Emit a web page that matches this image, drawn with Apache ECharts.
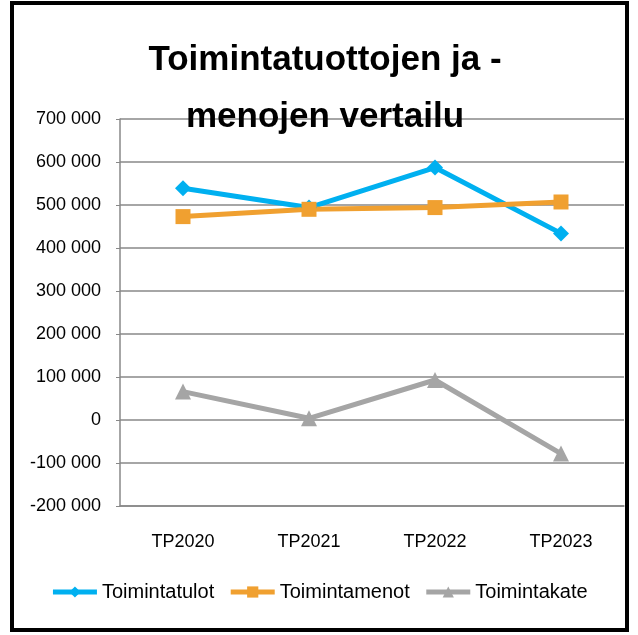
<!DOCTYPE html>
<html>
<head>
<meta charset="utf-8">
<script src="https://cdn.jsdelivr.net/npm/echarts@6/dist/echarts.min.js"></script>
<style>
    html, body { margin: 0; padding: 0; background: #fff; }
    #chart { width: 638px; height: 635px; }
</style>
</head>
<body>
<div id="chart"></div>
<script>
// chart data
const categories = ['TP2020', 'TP2021', 'TP2022', 'TP2023'];
const toimintatulot = [539000, 494000, 587000, 434000];
const toimintamenot = [473000, 490000, 494000, 507000];
const toimintakate = [66000, 4000, 93000, -78000];
const seriesNames = ['Toimintatulot', 'Toimintamenot', 'Toimintakate'];

const font = '"Liberation Sans Narrow", "Liberation Sans", sans-serif';

// 700000 -> "700 000"
function fmt(v) {
    return String(v).replace(/\B(?=(\d{3})+(?!\d))/g, ' ');
}

let myChart = echarts.init(document.getElementById('chart'));

function lineSeries(name, data, color, symbol) {
    return {
        name: name,
        type: 'line',
        data: data,
        symbol: symbol,
        symbolSize: symbol === 'rect' ? 15 : 16,
        lineStyle: { color: color, width: 5 },
        itemStyle: { color: color },
        emphasis: { disabled: true }
    };
}

myChart.setOption({
    animation: false,
    title: {
        text: 'Toimintatuottojen ja -\nmenojen vertailu',
        left: 320,
        top: 27,
        textAlign: 'center',
        textStyle: {
            fontFamily: font,
            fontWeight: 'bold',
            fontSize: 35,
            lineHeight: 57,
            color: '#000'
        },
        z: 10
    },
    grid: {
        left: 120,
        top: 119,
        right: 14,
        bottom: 129
    },
    legend: {
        data: seriesNames,
        bottom: 28,
        left: 'center',
        itemWidth: 44,
        itemHeight: 14,
        itemGap: 14,
        lineStyle: { width: 5 },
        textStyle: { fontFamily: font, fontSize: 20, color: '#000' }
    },
    xAxis: {
        type: 'category',
        data: categories,
        axisLine: { onZero: false, lineStyle: { color: '#888', width: 1.5 } },
        axisTick: { show: false },
        axisLabel: { margin: 27, fontFamily: font, fontSize: 18, color: '#000' }
    },
    yAxis: {
        type: 'value',
        min: -200000,
        max: 700000,
        interval: 100000,
        axisLine: { show: true, lineStyle: { color: '#888', width: 1.5 } },
        axisTick: { show: true, length: 4, lineStyle: { color: '#888' } },
        splitLine: { lineStyle: { color: '#888', width: 1.5 } },
        axisLabel: {
            margin: 19,
            fontFamily: font,
            fontSize: 18,
            color: '#000',
            formatter: fmt
        }
    },
    series: [
        lineSeries(seriesNames[0], toimintatulot, '#00B0F0', 'diamond'),
        lineSeries(seriesNames[1], toimintamenot, '#F0A030', 'rect'),
        lineSeries(seriesNames[2], toimintakate, '#A5A5A5', 'triangle')
    ],
    graphic: [{
        type: 'rect',
        shape: { x: 12, y: 3, width: 615, height: 627 },
        style: { fill: null, stroke: '#000', lineWidth: 4 },
        z: 100
    }]
});
</script>
</body>
</html>
